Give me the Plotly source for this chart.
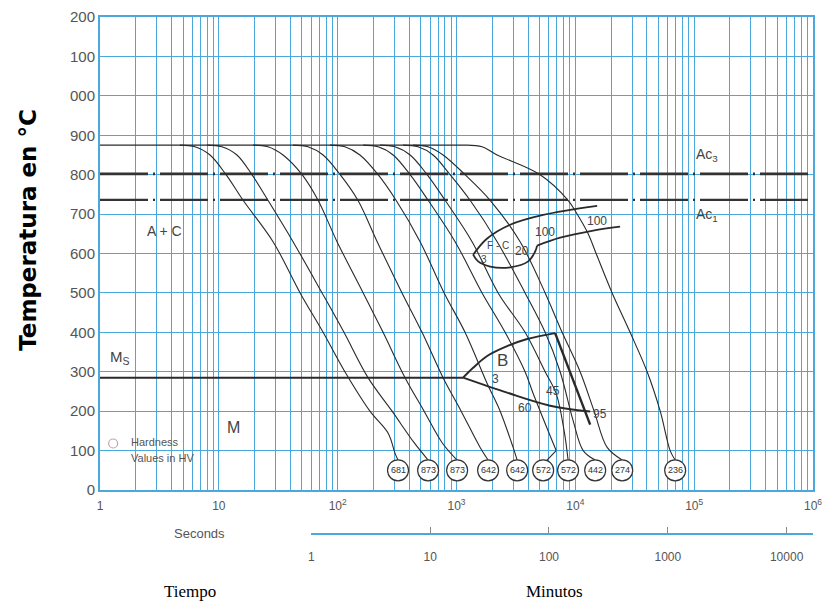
import plotly.graph_objects as go
import math

# ---------------- data (time in seconds, temperature in degC) ----------------
T_AUST = 875          # austenitizing temperature
T_AC3 = 802
T_AC1 = 736
T_MS = 285
aust_t = [1, 1228]

# continuous cooling curves (branch from austenitizing line -> hardness circle)
c1_t = [4.7, 6.3, 8.43, 11.5, 16.0, 28.6, 48.3, 75.4, 115, 187, 266, 304, 322]
c1_T = [875, 871, 850, 800, 735, 630, 500, 400, 300, 200, 144, 93, 76]
c2_t = [7.96, 10.6, 14.2, 19.0, 25.9, 42.1, 73.9, 113, 180, 287, 440, 577]
c2_T = [875, 871, 850, 800, 735, 630, 500, 400, 285, 200, 120, 76]
c3_t = [19.4, 25.9, 34.7, 50.2, 68.4, 98.8, 164, 241, 369, 534, 757, 1012]
c3_T = [875, 871, 850, 800, 735, 630, 500, 400, 285, 200, 120, 76]
c4_t = [42.1, 56.3, 75.4, 105, 148, 215, 348, 513, 771, 1094, 1581, 1845]
c4_T = [875, 871, 850, 800, 735, 630, 500, 400, 285, 200, 108, 76]
c5_t = [86.3, 115, 154, 219, 310, 494, 787, 1180, 1811, 2330, 2995, 3240]
c5_T = [875, 871, 850, 800, 735, 630, 500, 400, 270, 200, 108, 76]
c6_t = [164, 219, 293, 407, 577, 973, 1642, 2565, 3776, 4416, 6900]
c6_T = [875, 871, 850, 800, 735, 630, 500, 400, 300, 245, 100]
c6_hook_t = [6900, 5700]
c6_hook_T = [100, 74]
c7_t = [227, 303, 407, 566, 802, 1352, 2240, 3776, 5570, 6890, 8050, 8690]
c7_T = [875, 871, 850, 800, 735, 630, 500, 400, 300, 245, 150, 76]
c8_t = [355, 475, 635, 883, 1301, 2198, 3776, 5570, 7450, 9580, 11640, 14690]
c8_T = [875, 871, 850, 800, 735, 630, 500, 400, 300, 176, 100, 76]
c9_t = [431, 576, 771, 1180, 1919, 3430, 5570, 7740, 10970, 14390, 18530, 24800]
c9_T = [875, 871, 850, 800, 735, 630, 500, 400, 300, 200, 108, 76]
c10_t = [1228, 1642, 2198, 5055, 8690, 10350, 12820, 14960, 20400, 28900, 40200, 51800, 62800, 69200]
c10_T = [875, 871, 850, 800, 735, 700, 650, 600, 500, 400, 300, 200, 100, 76]

curves_t = [c1_t, c2_t, c3_t, c4_t, c5_t, c6_t, c7_t, c8_t, c9_t, c10_t]
curves_T = [c1_T, c2_T, c3_T, c4_T, c5_T, c6_T, c7_T, c8_T, c9_T, c10_T]

# hardness values (HV) at the end of each curve
hv_t = [322, 577, 1012, 1845, 3240, 5360, 8690, 14690, 24800, 69200]
hv_T = [50] * 10
hv_text = ["681", "873", "873", "642", "642", "572", "572", "442", "274", "236"]

# bainite region
ms_t = [1, 1137]
b_upper_t = [1137, 1380, 1811, 2667, 3930, 6760]
b_upper_T = [285, 310, 340, 365, 383, 398]
b_right_t = [6760, 13330]
b_right_T = [398, 166]
b_lower_t = [1137, 2667, 6140, 13330]
b_lower_T = [285, 247, 214, 199]

# ferrite/carbide region
fc_upper_t = [1380, 1811, 2826, 5360, 15270]
fc_upper_T = [597, 638, 673, 698, 721]
fc_lower_t = [1380, 1520, 1919, 2826, 4010, 4590, 4770]
fc_lower_T = [597, 580, 567, 565, 580, 605, 620]
fc_inner_t = [4770, 7450, 14130, 23800]
fc_inner_T = [620, 640, 658, 668]

# region / curve labels
lab_text = ["A + C", "M<sub>S</sub>", "M", "B", "3", "45", "60", "95",
            "F - C", "3", "20", "100", "100", "Ac<sub>3</sub>", "Ac<sub>1</sub>"]
lab_t = [3.52, 1.47, 13.4, 2420, 2113, 6500, 3776, 16180,
         2250, 1700, 3565, 5570, 15270, 128600, 128600]
lab_T = [658, 335, 159, 328, 282, 252, 209, 194,
         621, 586, 607, 655, 683, 849, 698]
lab_size = [14, 15, 16, 17, 12, 12, 12, 12, 10, 10, 12, 12, 12, 14, 14]

legend_text = ["Hardness", "Values in HV"]
legend_t = [1.75, 1.75]
legend_T = [121, 81]

# axis ticks
y_vals = [0, 100, 200, 300, 400, 500, 600, 700, 800, 900, 1000, 1100, 1200]
y_text = ["0", "100", "200", "300", "400", "500", "600", "700", "800", "900", "000", "100", "200"]
sec_vals = [1, 10, 100, 1000, 10000, 100000, 1000000]
sec_text = ["1", "10", "10<sup>2</sup>", "10<sup>3</sup>", "10<sup>4</sup>", "10<sup>5</sup>", "10<sup>6</sup>"]
min_vals_s = [60, 600, 6000, 60000, 600000]
min_text = ["1", "10", "100", "1000", "10000"]

# ---------------- figure ----------------
GRID = "#4aa8dc"
INK = "#2a2a2a"
fig = go.Figure()

def line(x, y, w=1.1, shape="linear", dash="solid", color=INK):
    fig.add_trace(go.Scatter(x=x, y=y, mode="lines",
                             line=dict(color=color, width=w, shape=shape, dash=dash, smoothing=1.0),
                             showlegend=False, hoverinfo="skip"))

# Ac lines
line([1, 1e6], [T_AC3, T_AC3], w=2.6, dash="48px,5px,2px,5px", color="#333")
line([1, 1e6], [T_AC1, T_AC1], w=2.3, dash="48px,5px,2px,5px", color="#333")

# austenitizing line and Ms
line(aust_t, [T_AUST, T_AUST], w=1.2)
line(ms_t, [T_MS, T_MS], w=2.0)

for ct, cT in zip(curves_t, curves_T):
    line(ct, cT, w=1.1, shape="spline")
line(c6_hook_t, c6_hook_T, w=1.1)

# bainite boundaries
line(b_upper_t, b_upper_T, w=2.0, shape="spline")
line(b_right_t, b_right_T, w=2.4)
line(b_lower_t, b_lower_T, w=2.0, shape="spline")

# F-C boundaries
line(fc_upper_t, fc_upper_T, w=1.8, shape="spline")
line(fc_lower_t, fc_lower_T, w=1.8, shape="spline")
line(fc_inner_t, fc_inner_T, w=1.8, shape="spline")

# hardness circles
fig.add_trace(go.Scatter(x=hv_t, y=hv_T, mode="markers",
                         marker=dict(symbol="circle", size=21, color="white",
                                     line=dict(color="#333", width=1.2)),
                         showlegend=False, hoverinfo="skip"))

# legend marker
fig.add_trace(go.Scatter(x=[1.29], y=[118], mode="markers",
                         marker=dict(symbol="circle-open", size=9, color="#c9a0a0", line=dict(width=1.2)),
                         showlegend=False, hoverinfo="skip"))

# invisible trace hosting the minutes axis (on a tiny hidden y axis below the plot)
fig.add_trace(go.Scatter(x=[60, 600000], y=[0, 0], mode="markers", marker=dict(opacity=0),
                         xaxis="x2", yaxis="y2", showlegend=False, hoverinfo="skip"))

annots = []
for tx, lt, lT in zip(hv_text, hv_t, hv_T):
    annots.append(dict(text=tx, x=math.log10(lt), y=lT, xref="x", yref="y", showarrow=False,
                       xanchor="center", yanchor="middle",
                       font=dict(size=9, color="#333", family="Liberation Sans")))
for tx, lt, lT, ls in zip(lab_text, lab_t, lab_T, lab_size):
    annots.append(dict(text=tx, x=math.log10(lt), y=lT, xref="x", yref="y", showarrow=False,
                       xanchor="center", yanchor="middle",
                       font=dict(size=ls, color="#444", family="Liberation Sans")))
for tx, lt, lT in zip(legend_text, legend_t, legend_T):
    annots.append(dict(text=tx, x=math.log10(lt), y=lT, xref="x", yref="y", showarrow=False,
                       xanchor="left", yanchor="middle",
                       font=dict(size=11, color="#555", family="Liberation Sans")))

annots += [
    dict(text="<b>Temperatura en °C</b>", xref="paper", yref="paper", x=-0.101, y=0.608,
         textangle=-90, showarrow=False, xanchor="center", yanchor="middle",
         font=dict(family="DejaVu Sans", size=23, color="black")),
    dict(text="Seconds", xref="paper", yref="paper", x=0.140, y=0.0497, showarrow=False,
         xanchor="center", yanchor="middle", font=dict(size=13, color="#555")),
    dict(text="Tiempo", xref="paper", yref="paper", x=0.126, y=-0.0589, showarrow=False,
         xanchor="center", yanchor="middle",
         font=dict(family="Liberation Serif", size=17, color="black")),
    dict(text="Minutos", xref="paper", yref="paper", x=0.638, y=-0.0589, showarrow=False,
         xanchor="center", yanchor="middle",
         font=dict(family="Liberation Serif", size=17, color="black")),
]

minor_vals = [k * 10 ** d for d in range(6) for k in range(2, 10)]

fig.update_layout(
    width=828, height=608,
    margin=dict(l=92, r=23, t=9, b=56, autoexpand=False),
    paper_bgcolor="white", plot_bgcolor="white",
    font=dict(family="Liberation Sans", color="#555"),
    xaxis=dict(type="log", range=[0, 6], domain=[0, 1], anchor="y", automargin=False,
               tickmode="array", tickvals=sec_vals, ticktext=sec_text, ticks="",
               ticklabelstandoff=4,
               showgrid=True, gridcolor=GRID, gridwidth=1,
               minor=dict(tickmode="array", tickvals=minor_vals, showgrid=True,
                          gridcolor=GRID, gridwidth=1, ticks=""),
               showline=True, linecolor=GRID, linewidth=2, mirror=True,
               tickfont=dict(size=12, color="#555"), zeroline=False),
    yaxis=dict(range=[0, 1200], domain=[70 / 543, 1], anchor="x", automargin=False,
               tickvals=y_vals, ticktext=y_text, ticks="", ticklabeloverflow="allow",
               showgrid=True, gridcolor=GRID, gridwidth=1,
               showline=True, linecolor=GRID, linewidth=2, mirror=True,
               tickfont=dict(size=15, color="#555"), zeroline=False),
    xaxis2=dict(type="log", range=[math.log10(60), 6], domain=[math.log10(60) / 6, 1],
                anchor="y2", automargin=False,
                tickvals=min_vals_s, ticktext=min_text, ticks="inside", ticklen=6,
                ticklabelstandoff=12,
                tickcolor="#888", showgrid=False, showline=True, linecolor=GRID, linewidth=1.5,
                tickfont=dict(size=12, color="#555"), zeroline=False),
    yaxis2=dict(domain=[0.0497, 0.06], anchor="x2", visible=False, range=[0, 1]),
    annotations=annots,
)

fig.write_html("out.html")
